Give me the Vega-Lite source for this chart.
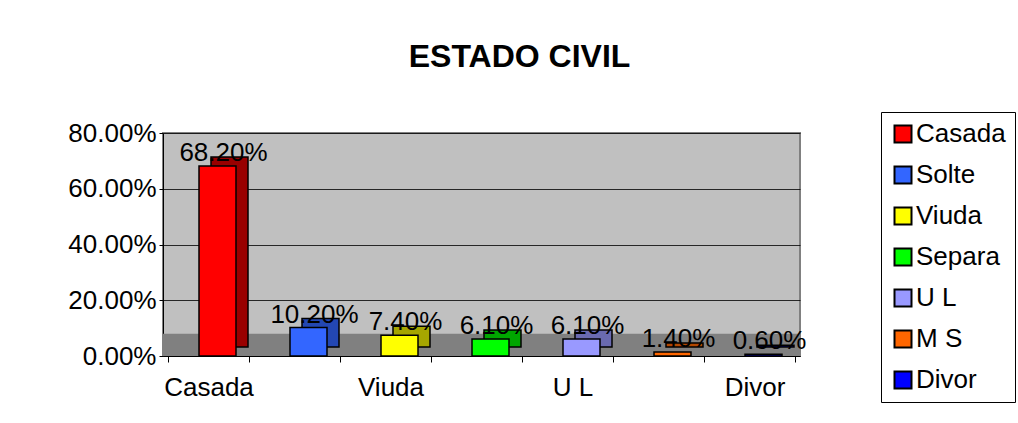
{
  "$schema": "https://vega.github.io/schema/vega-lite/v6.json",
  "width": 637,
  "height": 223,
  "autosize": "none",
  "padding": {"left": 163, "top": 133, "right": 218, "bottom": 67},
  "background": "white",
  "title": {"text": "ESTADO CIVIL", "font": "Liberation Sans", "fontSize": 32, "fontWeight": "bold", "color": "black", "anchor": "middle", "frame": "group", "dx": 38, "offset": 38},
  "config": {"font": "Liberation Sans", "view": {"fill": "#C0C0C0", "stroke": "#808080", "strokeWidth": 2}},
  "data": {"values": [
    {"estado": "Casada", "pct": 0.682},
    {"estado": "Solte", "pct": 0.102},
    {"estado": "Viuda", "pct": 0.074},
    {"estado": "Separa", "pct": 0.061},
    {"estado": "U L", "pct": 0.061},
    {"estado": "M S", "pct": 0.014},
    {"estado": "Divor", "pct": 0.006}
  ]},
  "layer": [
    {
      "data": {"values": [{"desde": 0, "hasta": 0.08}]},
      "mark": {"type": "rect", "color": "#808080"},
      "encoding": {
        "y": {"field": "desde", "type": "quantitative", "scale": {"domain": [0, 0.8]},
          "axis": {"title": null, "format": ".2%", "values": [0, 0.2, 0.4, 0.6, 0.8], "labelFontSize": 26, "labelColor": "black", "tickSize": 4, "tickColor": "black", "domainColor": "black", "labelPadding": 3, "grid": true, "gridColor": "black", "gridOpacity": 0.8}},
        "y2": {"field": "hasta"}
      }
    },
    {
      "mark": {"type": "bar", "width": 37, "xOffset": 21, "yOffset": -9, "y2Offset": -9, "stroke": "black", "strokeWidth": 1.5},
      "encoding": {
        "x": {"field": "estado", "type": "nominal", "sort": null,
          "axis": {"title": null, "labelAngle": 0, "labelFontSize": 26, "labelColor": "black", "labelExpr": "indexof(['Casada','Viuda','U L','Divor'], datum.value) >= 0 ? datum.label : ''", "tickBand": "extent", "tickSize": 6, "tickColor": "black", "domainColor": "black", "labelPadding": 12, "grid": false}},
        "y": {"field": "pct", "type": "quantitative"},
        "color": {"field": "estado", "type": "nominal", "legend": null,
          "scale": {"domain": ["Casada", "Solte", "Viuda", "Separa", "U L", "M S", "Divor"], "range": ["#990000", "#2347B3", "#A6A600", "#00A600", "#6A6AB0", "#B34700", "#0000A6"]}}
      }
    },
    {
      "mark": {"type": "bar", "width": 37, "xOffset": 9, "stroke": "black", "strokeWidth": 1.5},
      "encoding": {
        "x": {"field": "estado", "type": "nominal", "sort": null},
        "y": {"field": "pct", "type": "quantitative"},
        "color": {"field": "estado", "type": "nominal",
          "scale": {"domain": ["Casada", "Solte", "Viuda", "Separa", "U L", "M S", "Divor"], "range": ["#FF0000", "#3366FF", "#FFFF00", "#00FF00", "#9999FF", "#FF6600", "#0000FF"]},
          "legend": {"title": null, "orient": "none", "legendX": 718, "legendY": -21, "strokeColor": "black", "fillColor": "white", "padding": 9, "symbolType": "square", "symbolSize": 289, "symbolStrokeColor": "black", "symbolStrokeWidth": 2, "labelFontSize": 26, "labelColor": "black", "rowPadding": 15, "labelOffset": 0}}
      }
    },
    {
      "mark": {"type": "text", "fontSize": 26, "color": "black", "dx": 15, "dy": -13, "baseline": "middle"},
      "encoding": {
        "x": {"field": "estado", "type": "nominal", "sort": null},
        "y": {"field": "pct", "type": "quantitative"},
        "text": {"field": "pct", "type": "quantitative", "format": ".2%"}
      }
    }
  ],
  "resolve": {"scale": {"color": "independent"}}
}
